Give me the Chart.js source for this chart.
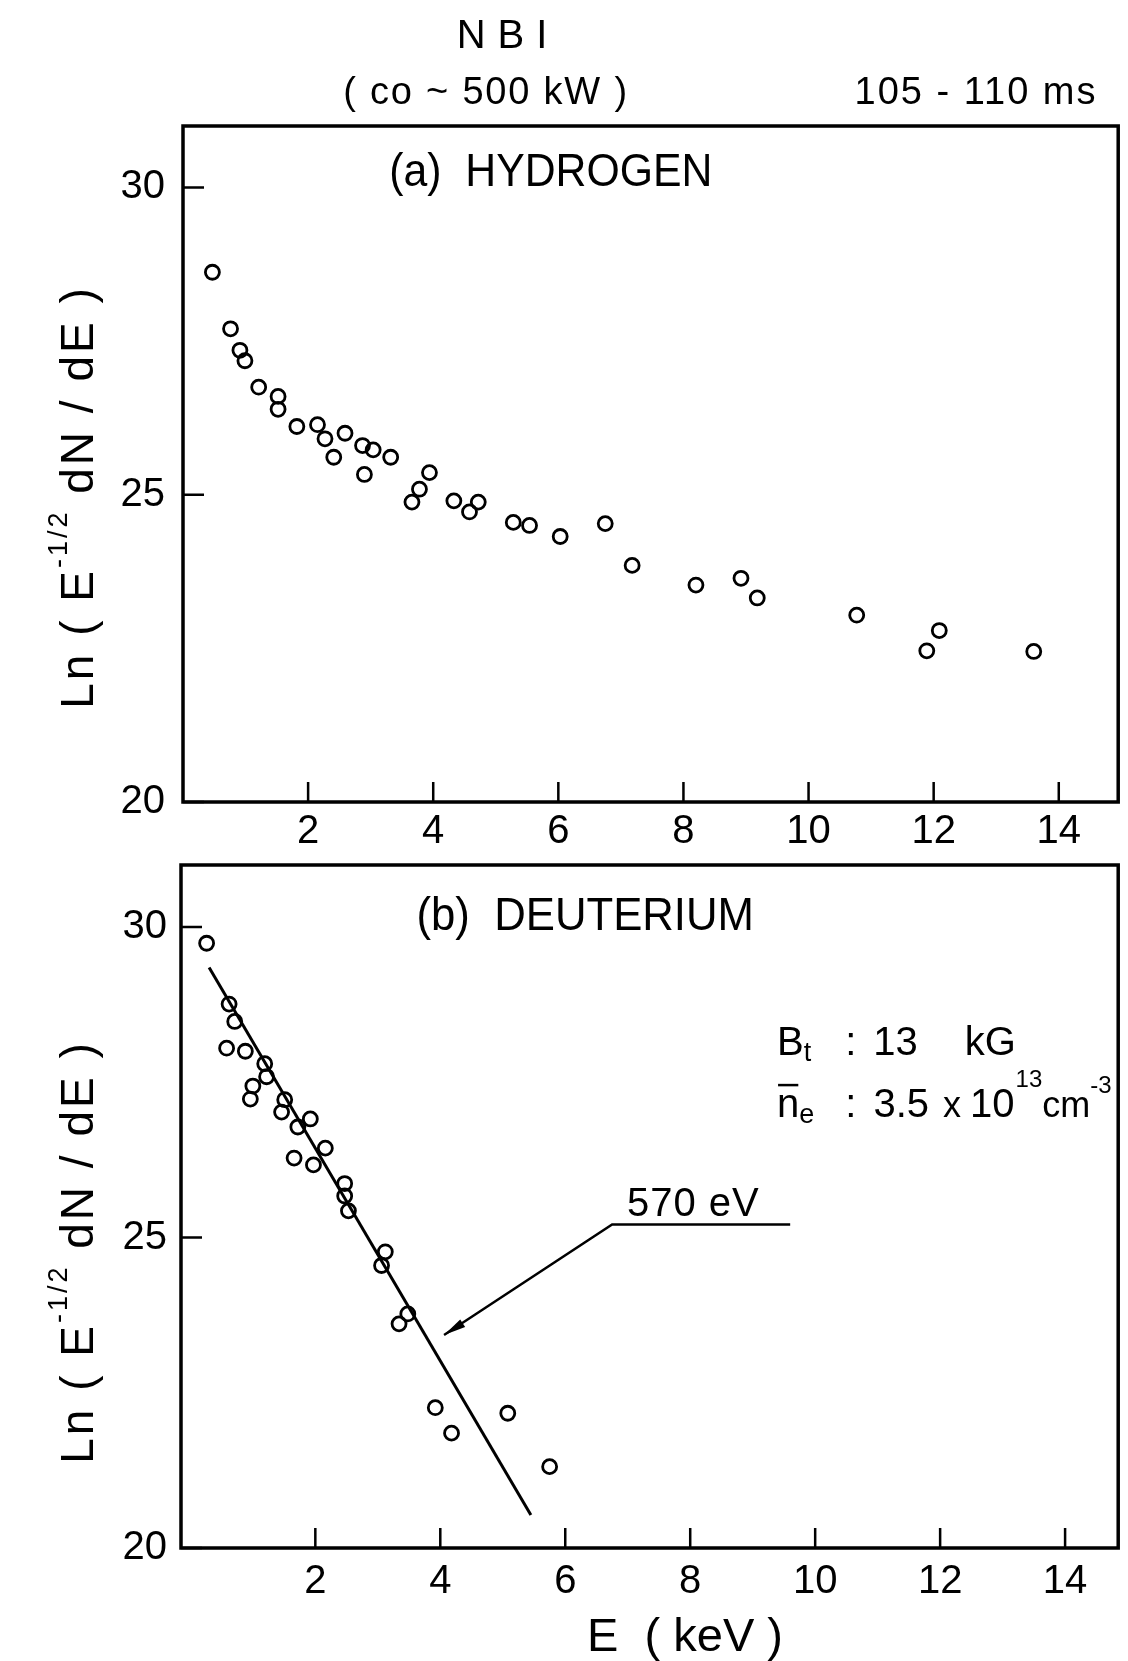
<!DOCTYPE html>
<html>
<head>
<meta charset="utf-8">
<script src="https://cdn.jsdelivr.net/npm/chart.js@4.4.1/dist/chart.umd.min.js"></script>
<style>
  html, body { margin: 0; padding: 0; background: #fff; }
  #wrap { position: relative; width: 1128px; height: 1661px; overflow: hidden; background: #fff; }
  canvas { position: absolute; left: 0; }
  #topChart { top: 0; }
  #botChart { top: 827px; }
</style>
</head>
<body>
<div id="wrap">
  <canvas id="topChart" width="1128" height="880" style="width:1128px;height:880px"></canvas>
  <canvas id="botChart" width="1128" height="834" style="width:1128px;height:834px"></canvas>
</div>
<script>
// (a) hydrogen spectrum
const hydrogenE  = [0.47, 0.76, 0.91, 0.99, 1.21, 1.52, 1.52, 1.82, 2.15, 2.27, 2.41, 2.59, 2.87, 2.90, 3.04, 3.32, 3.66, 3.78, 3.94, 4.33, 4.58, 4.72, 5.28, 5.54, 6.03, 6.75, 7.18, 8.20, 8.92, 9.18, 10.77, 11.89, 12.09, 13.60];
const hydrogenLn = [28.62, 27.70, 27.35, 27.18, 26.75, 26.60, 26.39, 26.11, 26.14, 25.91, 25.61, 26.00, 25.80, 25.33, 25.73, 25.61, 24.88, 25.09, 25.36, 24.90, 24.72, 24.88, 24.55, 24.50, 24.32, 24.53, 23.85, 23.53, 23.64, 23.32, 23.04, 22.46, 22.79, 22.45];

// (b) deuterium spectrum
const deuteriumE  = [0.26, 0.62, 0.71, 0.58, 0.88, 1.19, 1.22, 1.00, 0.96, 1.51, 1.46, 1.72, 1.92, 1.66, 1.97, 2.16, 2.47, 2.47, 2.53, 3.12, 3.06, 3.48, 3.34, 3.92, 4.18, 5.08, 5.75];
const deuteriumLn = [29.74, 28.76, 28.48, 28.05, 28.00, 27.80, 27.59, 27.44, 27.23, 27.22, 27.02, 26.78, 26.91, 26.28, 26.17, 26.44, 25.87, 25.67, 25.43, 24.77, 24.55, 23.77, 23.61, 22.26, 21.85, 22.17, 21.31];

// 570 eV fit line and the arrow pointing at it
const fitE  = [0.30, 5.45];
const fitLn = [29.35, 20.53];
const arrowE  = [9.60, 6.75, 4.06];
const arrowLn = [25.21, 25.21, 23.43];

const xTicks = [2, 4, 6, 8, 10, 12, 14];
const yTicks = [20, 25, 30];

const FONT = '"Liberation Sans", Arial, sans-serif';
const pts = (xs, ys) => xs.map((v, i) => ({ x: v, y: ys[i] }));

// draws a row of text pieces (for super/subscripts), y is the baseline
function drawRuns(ctx, runs, x, y, align, sx, rot, spacing) {
  ctx.save();
  ctx.translate(x, y);
  if (rot) ctx.rotate(rot);
  ctx.scale(sx || 1, 1);
  if ('letterSpacing' in ctx) ctx.letterSpacing = (spacing || 0) + 'px';
  let w = 0;
  const ws = runs.map(r => {
    ctx.font = r.s + 'px ' + FONT;
    const m = ctx.measureText(r.t).width;
    w += m + (r.g || 0);
    return m;
  });
  let cx = align === 'center' ? -w / 2 : align === 'right' ? -w : 0;
  ctx.textBaseline = 'alphabetic';
  ctx.textAlign = 'left';
  runs.forEach((r, i) => {
    cx += r.g || 0;
    ctx.font = r.s + 'px ' + FONT;
    ctx.fillText(r.t, cx, r.dy || 0);
    if (r.bar) {
      const by = (r.dy || 0) - r.s * 0.8;
      ctx.lineWidth = 2.5;
      ctx.beginPath();
      ctx.moveTo(cx + 1, by);
      ctx.lineTo(cx + ws[i] - 1, by);
      ctx.stroke();
    }
    cx += ws[i];
  });
  ctx.restore();
}

// frame, inward ticks, arrow head and labels
function makeDeco(texts) {
  return {
    id: 'deco',
    afterDraw(chart) {
      const { ctx, chartArea: a } = chart;
      const xs = chart.scales.x, ys = chart.scales.y;
      ctx.save();
      ctx.strokeStyle = '#000';
      ctx.fillStyle = '#000';
      ctx.lineWidth = 2.5;
      ctx.beginPath();
      xs.ticks.forEach(t => {
        const p = xs.getPixelForValue(t.value);
        ctx.moveTo(p, a.bottom);
        ctx.lineTo(p, a.bottom - 20);
      });
      ys.ticks.forEach(t => {
        const p = ys.getPixelForValue(t.value);
        ctx.moveTo(a.left, p);
        ctx.lineTo(a.left + 21, p);
      });
      ctx.stroke();
      ctx.lineWidth = 3.5;
      ctx.strokeRect(a.left, a.top, a.right - a.left, a.bottom - a.top);
      chart.data.datasets.forEach((ds, i) => {
        if (!ds.arrow) return;
        const d = chart.getDatasetMeta(i).data;
        const p1 = d[d.length - 2], p2 = d[d.length - 1];
        const ang = Math.atan2(p2.y - p1.y, p2.x - p1.x);
        ctx.save();
        ctx.translate(p2.x, p2.y);
        ctx.rotate(ang);
        ctx.beginPath();
        ctx.moveTo(0, 0);
        ctx.lineTo(-22, -5);
        ctx.lineTo(-22, 4);
        ctx.closePath();
        ctx.fill();
        ctx.restore();
      });
      texts.forEach(t => {
        const px = t.at ? xs.getPixelForValue(t.at[0]) : t.px[0];
        const py = t.at ? ys.getPixelForValue(t.at[1]) : t.px[1];
        drawRuns(ctx, t.runs, px, py, t.align, t.sx, t.rot, t.spacing);
      });
      ctx.restore();
    }
  };
}

function scaleOpts(min, max, ticks, size, pad) {
  return {
    type: 'linear',
    min: min,
    max: max,
    afterBuildTicks: s => { s.ticks = ticks.map(v => ({ value: v })); },
    afterFit: size,
    grid: { display: false, drawTicks: false },
    border: { display: false },
    ticks: { color: '#000', font: { family: FONT, size: 40 }, padding: pad, maxRotation: 0, autoSkip: false }
  };
}

const markerStyle = {
  showLine: false,
  pointStyle: 'circle',
  pointRadius: 7,
  pointBorderWidth: 2.8,
  pointBackgroundColor: 'rgba(255,255,255,0)',
  pointBorderColor: '#000',
  pointHoverRadius: 7
};

const yTitle = [
  { t: 'Ln ( E', s: 46 },
  { t: '-1/2', s: 27, dy: -26 },
  { t: ' dN / dE )', s: 46 }
];

new Chart(document.getElementById('topChart'), {
  type: 'scatter',
  data: {
    datasets: [Object.assign({ data: pts(hydrogenE, hydrogenLn) }, markerStyle)]
  },
  options: {
    responsive: false,
    animation: false,
    layout: { padding: { top: 126, right: 0, left: 0, bottom: 0 } },
    plugins: { legend: { display: false }, tooltip: { enabled: false } },
    scales: {
      x: scaleOpts(0, 14.95, xTicks, s => { s.height = 78; }, 6),
      y: scaleOpts(20, 31, yTicks, s => { s.width = 183; }, 18)
    }
  },
  plugins: [makeDeco([
    { runs: [{ t: 'NBI', s: 40 }], px: [508, 48], align: 'center', spacing: 12 },
    { runs: [{ t: '( co ~ 500 kW )', s: 38 }], px: [486, 104], align: 'center', spacing: 1.8 },
    { runs: [{ t: '105 - 110 ms', s: 38 }], px: [976, 104], align: 'center', spacing: 2 },
    { runs: [{ t: '(a)  HYDROGEN', s: 46 }], at: [5.88, 30.02], align: 'center', sx: 0.93 },
    { runs: yTitle, px: [93, 497], align: 'center', rot: -Math.PI / 2, spacing: 3 }
  ])]
});

new Chart(document.getElementById('botChart'), {
  type: 'scatter',
  data: {
    datasets: [
      Object.assign({ data: pts(deuteriumE, deuteriumLn) }, markerStyle),
      { data: pts(fitE, fitLn), showLine: true, borderColor: '#000', borderWidth: 3, pointRadius: 0, fill: false },
      { data: pts(arrowE, arrowLn), showLine: true, borderColor: '#000', borderWidth: 2.5, pointRadius: 0, fill: false, arrow: true }
    ]
  },
  options: {
    responsive: false,
    animation: false,
    layout: { padding: { top: 0, right: 0, left: 0, bottom: 0 } },
    plugins: { legend: { display: false }, tooltip: { enabled: false } },
    scales: {
      x: scaleOpts(-0.15, 14.85, xTicks, s => { s.height = 113; }, 10),
      y: scaleOpts(20, 31, yTicks, s => { s.width = 181; }, 14)
    }
  },
  plugins: [makeDeco([
    { runs: [{ t: '(b)  DEUTERIUM', s: 46 }], at: [6.32, 29.95], align: 'center', sx: 0.95 },
    { runs: [{ t: '570 eV', s: 40 }], at: [8.05, 25.35], align: 'center', spacing: 1 },
    { runs: [
        { t: 'B', s: 40 }, { t: 't', s: 27, dy: 6 },
        { t: ':', s: 40, g: 34 }, { t: '13', s: 40, g: 17 }, { t: 'kG', s: 40, g: 47 }
      ], at: [9.39, 27.94], align: 'left' },
    { runs: [
        { t: 'n', s: 40, bar: true }, { t: 'e', s: 27, dy: 6 },
        { t: ':', s: 40, g: 31 }, { t: '3.5', s: 40, g: 17 }, { t: 'x', s: 36, g: 14 },
        { t: '10', s: 40, g: 9 }, { t: '13', s: 24, dy: -30, g: 1 },
        { t: 'cm', s: 36 }, { t: '-3', s: 24, dy: -24 }
      ], at: [9.39, 26.94], align: 'left' },
    { runs: [{ t: 'E  ( keV )', s: 47 }], px: [685, 824], align: 'center' },
    { runs: yTitle, px: [93, 425], align: 'center', rot: -Math.PI / 2, spacing: 3 }
  ])]
});
</script>
</body>
</html>
